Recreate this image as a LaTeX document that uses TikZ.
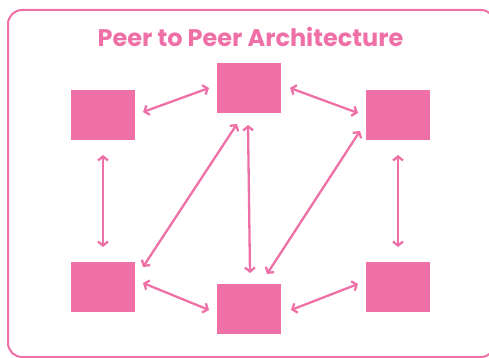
\documentclass[tikz,border=0pt]{standalone}
\usepackage{fontspec}
\setmainfont{Poppins}
\usetikzlibrary{arrows.meta}
\definecolor{peerpink}{HTML}{EE70A6}
\tikzset{
  peer/.style={fill=peerpink, draw=none, minimum width=64pt, minimum height=50pt, inner sep=0pt},
  link/.style={draw=peerpink, line width=2.3pt, {Straight Barb[length=4pt,width=10pt]}-{Straight Barb[length=4pt,width=10pt]}},
  frame/.style={draw=peerpink, line width=2pt, rounded corners=14pt}
}
\begin{document}
\begin{tikzpicture}[x=1pt,y=-1pt]
  \useasboundingbox (0,0) rectangle (489,358);
  % outer frame, its right side running just past the page edge
  \begin{scope}
    \clip (0,0) rectangle (489,358);
    \draw[frame] (8,10) rectangle (495,357);
  \end{scope}
  % title
  \node[anchor=base, inner sep=0pt] (title) at (250.5,47) {\fontsize{24}{27}\selectfont\bfseries\color{peerpink}Peer to Peer Architecture};
  % peers
  \node[peer] (tc) at (249,88) {};
  \node[peer] (tl) at (103,115) {};
  \node[peer] (tr) at (398,115) {};
  \node[peer] (bl) at (103,287) {};
  \node[peer] (bc) at (249,309) {};
  \node[peer] (br) at (398,287) {};
  % arrow end points
  \coordinate (a1) at (143,112); \coordinate (a2) at (209,88);
  \coordinate (b1) at (290,88);  \coordinate (b2) at (358,113);
  \coordinate (c1) at (103,155); \coordinate (c2) at (103,247);
  \coordinate (d1) at (398,155); \coordinate (d2) at (398,247);
  \coordinate (e1) at (237,124); \coordinate (e2) at (143,267);
  \coordinate (f1) at (248,125); \coordinate (f2) at (250,273);
  \coordinate (g1) at (360,131); \coordinate (g2) at (267,274);
  \coordinate (h1) at (143,283); \coordinate (h2) at (209,310);
  \coordinate (i1) at (291,310); \coordinate (i2) at (358,284);
  % links between peers
  \draw[link] (a1) -- (a2);
  \draw[link] (b1) -- (b2);
  \draw[link] (c1) -- (c2);
  \draw[link] (d1) -- (d2);
  \draw[link] (e1) -- (e2);
  \draw[link] (f1) -- (f2);
  \draw[link] (g1) -- (g2);
  \draw[link] (h1) -- (h2);
  \draw[link] (i1) -- (i2);
\end{tikzpicture}
\end{document}
